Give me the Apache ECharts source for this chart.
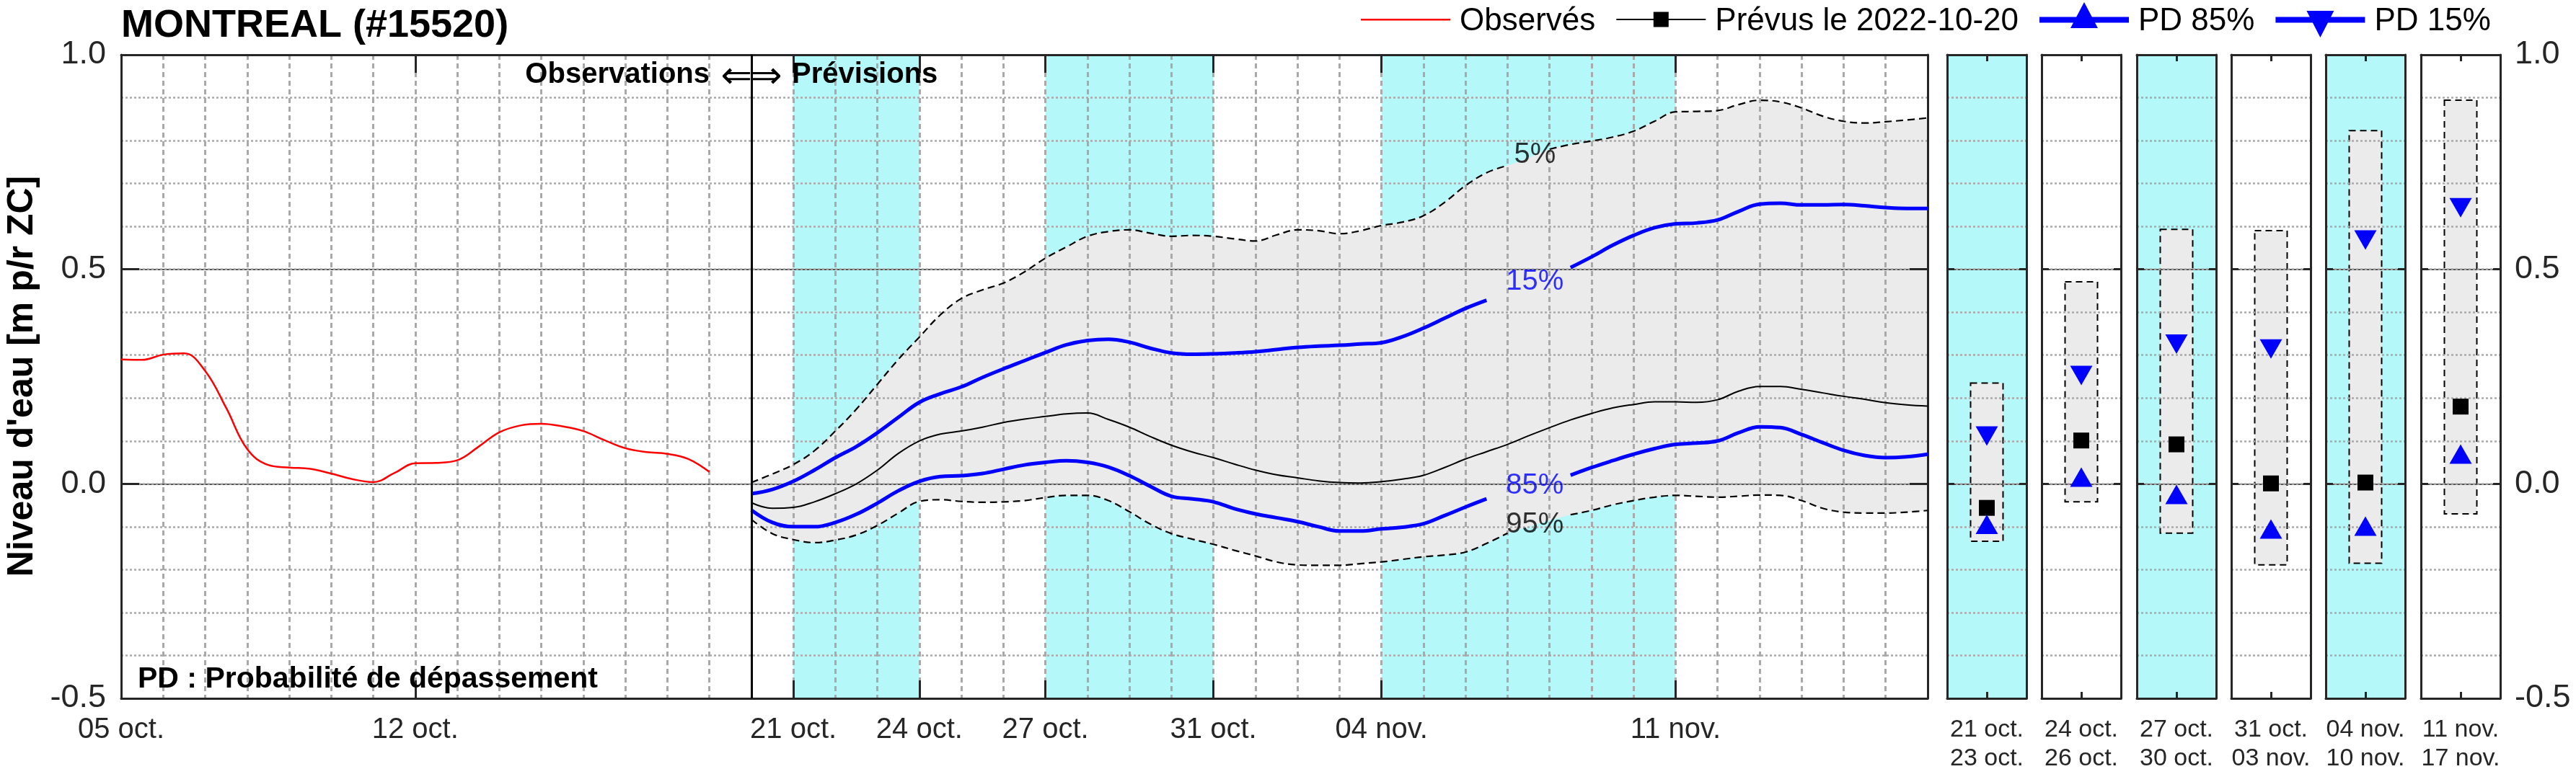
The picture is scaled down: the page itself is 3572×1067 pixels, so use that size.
<!DOCTYPE html>
<html><head><meta charset="utf-8">
<script src="https://cdn.jsdelivr.net/npm/echarts@6/dist/echarts.min.js"></script>
<style>html,body{margin:0;padding:0;background:#fff}#c{width:3572px;height:1067px}</style>
</head><body><div id="c"></div>
<script>
// ---------------- DATA (days counted from 2022-10-05 00:00) ----------------
const obsDays = [0,0.5,1,1.5,2,2.5,3,3.5,4,4.5,5,5.5,6,6.5,7,7.5,8,8.5,9,9.5,10,10.5,11,11.5,12,12.5,13,13.5,14];
const observed = [0.290,0.289,0.301,0.304,0.263,0.177,0.081,0.044,0.038,0.035,0.024,0.011,0.004,0.025,0.048,0.049,0.055,0.086,0.120,0.136,0.140,0.134,0.123,0.102,0.083,0.074,0.070,0.058,0.028];

const fcDays = [15,15.5,16,16.5,17,17.5,18,18.5,19,19.5,20,20.5,21,21.5,22,22.5,23,23.5,24,24.5,25,25.5,26,26.5,27,27.5,28,28.5,29,29.5,30,30.5,31,31.5,32,32.5,33,33.5,34,34.5,35,35.5,36,36.5,37,37.5,38,38.5,39,39.5,40,40.5,41,41.5,42,42.5,43];
const p05 = [0.003,0.023,0.045,0.077,0.123,0.174,0.232,0.290,0.342,0.394,0.432,0.452,0.468,0.494,0.526,0.552,0.577,0.588,0.592,0.584,0.577,0.579,0.577,0.571,0.566,0.580,0.592,0.590,0.583,0.590,0.602,0.610,0.625,0.656,0.695,0.725,0.742,0.760,0.780,0.791,0.799,0.808,0.822,0.845,0.867,0.868,0.870,0.884,0.894,0.890,0.876,0.857,0.845,0.841,0.844,0.848,0.853];
const p15 = [-0.023,-0.013,0.006,0.032,0.061,0.087,0.119,0.155,0.190,0.210,0.226,0.248,0.268,0.287,0.306,0.324,0.334,0.337,0.330,0.316,0.305,0.302,0.303,0.305,0.308,0.313,0.318,0.321,0.323,0.326,0.329,0.343,0.363,0.386,0.409,0.428,0.447,0.466,0.485,0.504,0.529,0.556,0.579,0.597,0.606,0.608,0.615,0.635,0.652,0.654,0.650,0.650,0.651,0.648,0.644,0.642,0.642];
const forecast = [-0.044,-0.057,-0.055,-0.042,-0.023,0.000,0.032,0.071,0.100,0.116,0.123,0.132,0.143,0.151,0.157,0.163,0.165,0.150,0.132,0.110,0.090,0.074,0.061,0.046,0.032,0.021,0.014,0.007,0.003,0.002,0.005,0.011,0.020,0.038,0.058,0.075,0.092,0.112,0.131,0.149,0.164,0.177,0.185,0.191,0.191,0.190,0.196,0.216,0.227,0.227,0.220,0.212,0.204,0.197,0.189,0.184,0.181];
const p85 = [-0.061,-0.090,-0.100,-0.100,-0.090,-0.071,-0.045,-0.016,0.006,0.017,0.019,0.024,0.034,0.044,0.050,0.054,0.050,0.039,0.019,-0.006,-0.029,-0.035,-0.042,-0.058,-0.070,-0.079,-0.088,-0.100,-0.110,-0.110,-0.105,-0.101,-0.093,-0.074,-0.054,-0.035,-0.021,-0.008,0.006,0.020,0.038,0.054,0.069,0.082,0.092,0.095,0.100,0.119,0.133,0.131,0.115,0.096,0.078,0.066,0.061,0.063,0.069];
const p95 = [-0.083,-0.116,-0.130,-0.137,-0.131,-0.119,-0.097,-0.068,-0.041,-0.037,-0.041,-0.043,-0.042,-0.039,-0.032,-0.027,-0.027,-0.039,-0.065,-0.094,-0.116,-0.129,-0.141,-0.155,-0.168,-0.182,-0.189,-0.190,-0.190,-0.186,-0.182,-0.176,-0.170,-0.166,-0.159,-0.139,-0.115,-0.100,-0.085,-0.072,-0.062,-0.049,-0.039,-0.031,-0.027,-0.029,-0.031,-0.029,-0.026,-0.027,-0.039,-0.057,-0.066,-0.068,-0.068,-0.066,-0.062];

const forecastStartDay = 15;
const mainTickDays = [0,7,16,19,22,26,30,37];
const mainTickLabels = ['05 oct.','12 oct.','21 oct.','24 oct.','27 oct.','31 oct.','04 nov.','11 nov.'];
const shadedPeriods = [[16,19],[22,26],[30,37]];

const panelStart = ['21 oct.','24 oct.','27 oct.','31 oct.','04 nov.','11 nov.'];
const panelEnd   = ['23 oct.','26 oct.','30 oct.','03 nov.','10 nov.','17 nov.'];
const panelShaded = [true,false,true,false,true,false];
const panelP05 = [0.235,0.471,0.593,0.590,0.823,0.894];
const panelP95 = [-0.134,-0.042,-0.115,-0.189,-0.185,-0.070];
const panelForecast = [-0.056,0.101,0.092,0.001,0.003,0.180];
const panelP15 = [0.119,0.260,0.333,0.322,0.576,0.651];
const panelP85 = [-0.102,0.008,-0.032,-0.113,-0.106,0.062];

// ---------------- STYLE / LAYOUT ----------------
const FONT = '"Liberation Sans", Arial, Helvetica, sans-serif';
const CYAN = '#b4f8fa', BAND = '#ebebeb', BLUE = '#0000ff', FRAMEC = '#262626', GRIDC = '#a9a9a9';
const GRID_TOP = 76, GRID_H = 893;
const MAIN_LEFT = 168, MAIN_W = 2505;
const PANEL_LEFT = [2700, 2831, 2963, 3094, 3225, 3357], PANEL_W = 110;
const labelDay = 33.65;
const labelGaps = {p05:[33.2,33.8], p15:[32.9,34.3], p85:[32.9,34.3], p95:[33.2,34.3]};
const SMOOTH = 0.4;

const pairs = (xs, ys) => xs.map((x,i) => [x, ys[i]]);
const gapped = (xs, ys, g) => xs.map((x,i) => [x, (x > g[0] && x < g[1]) ? '-' : ys[i]]);
function interp(xs, ys, x){
  for (let i=0;i<xs.length-1;i++) if (x>=xs[i] && x<=xs[i+1]) { const t=(x-xs[i])/(xs[i+1]-xs[i]); return ys[i]+t*(ys[i+1]-ys[i]); }
  return ys[ys.length-1];
}
// same bezier construction as the line series' smoothing, so the band edges follow the lines
function smoothSegs(pts, s){
  const segs = [];
  let cpx0 = pts[0][0], cpy0 = pts[0][1], prevX = pts[0][0], prevY = pts[0][1];
  for (let k=1;k<pts.length;k++){
    const x = pts[k][0], y = pts[k][1];
    let cpx1, cpy1, nx0 = x, ny0 = y;
    if (k+1 >= pts.length){ cpx1 = x; cpy1 = y; }
    else {
      const nextX = pts[k+1][0], nextY = pts[k+1][1];
      let vx = nextX - prevX, vy = nextY - prevY;
      const lenPrev = Math.hypot(x-prevX, y-prevY), lenNext = Math.hypot(nextX-x, nextY-y);
      const ratio = lenNext/(lenNext+lenPrev);
      nx0 = x + vx*s*ratio; ny0 = y + vy*s*ratio;
      nx0 = Math.min(nx0, Math.max(nextX,x)); ny0 = Math.min(ny0, Math.max(nextY,y));
      nx0 = Math.max(nx0, Math.min(nextX,x)); ny0 = Math.max(ny0, Math.min(nextY,y));
      vx = nx0 - x; vy = ny0 - y;
      cpx1 = x - vx*lenPrev/lenNext; cpy1 = y - vy*lenPrev/lenNext;
      cpx1 = Math.min(cpx1, Math.max(prevX,x)); cpy1 = Math.min(cpy1, Math.max(prevY,y));
      cpx1 = Math.max(cpx1, Math.min(prevX,x)); cpy1 = Math.max(cpy1, Math.min(prevY,y));
      vx = x - cpx1; vy = y - cpy1;
      nx0 = x + vx*lenNext/lenPrev; ny0 = y + vy*lenNext/lenPrev;
    }
    segs.push([cpx0, cpy0, cpx1, cpy1, x, y]);
    cpx0 = nx0; cpy0 = ny0; prevX = x; prevY = y;
  }
  return segs;
}

const FRAME = {show:true, onZero:false, lineStyle:{color:FRAMEC, width:3}};
const NOLINE = {show:false, onZero:false};
const dotted = {show:true, lineStyle:{color:GRIDC, width:2.5, type:[3,3]}};
const solidRef = {show:true, lineStyle:{color:'#555555', width:2, type:'solid'}};
const tickStyle = {color:FRAMEC, width:3};

const grids = [{left:MAIN_LEFT, top:GRID_TOP, width:MAIN_W, height:GRID_H, containLabel:false, outerBoundsMode:'none'}];
PANEL_LEFT.forEach((l,i) => grids.push({left:l, top:GRID_TOP, width:PANEL_W, height:GRID_H, containLabel:false, outerBoundsMode:'none',
  show:panelShaded[i], backgroundColor:CYAN, borderWidth:0}));

function yLeft(gi, len){
  return {type:'value', gridIndex:gi, min:-0.5, max:1, interval:0.5, position:'left', z:2,
    axisLine:FRAME, splitLine:{show:false},
    axisTick:{show:true, inside:true, length:len, lineStyle:tickStyle},
    axisLabel:{show:gi===0, formatter:v=>Number(v).toFixed(1), fontSize:45, color:FRAMEC, margin:21, fontFamily:FONT}};
}
function yRight(gi, len, show){
  return {type:'value', gridIndex:gi, min:-0.5, max:1, interval:0.5, position:'right', z:2,
    axisLine:FRAME, splitLine:solidRef,
    axisTick:{show:true, inside:true, length:len, lineStyle:tickStyle},
    axisLabel:{show:show, formatter:v=>Number(v).toFixed(1), fontSize:45, color:FRAMEC, margin:20, align:'left', fontFamily:FONT}};
}
function yGrid(gi){
  return {type:'value', gridIndex:gi, min:-0.5, max:1, interval:0.1, position:'left', z:2,
    axisLine:NOLINE, axisTick:{show:false}, axisLabel:{show:false}, splitLine:dotted};
}

const xAxes = [
  {type:'value', gridIndex:0, min:0, max:43, interval:1, position:'bottom', z:2,
   axisLine:FRAME, splitLine:{show:false},
   axisTick:{show:true, inside:true, length:25, customValues:mainTickDays, lineStyle:tickStyle},
   axisLabel:{show:true, customValues:mainTickDays, fontSize:40, color:FRAMEC, margin:24, fontFamily:FONT,
     formatter:v=>{const k=mainTickDays.findIndex(d=>Math.abs(d-v)<1e-6); return k<0?'':mainTickLabels[k];}}},
  {type:'value', gridIndex:0, min:0, max:43, interval:1, position:'top', z:2,
   axisLine:FRAME, splitLine:{show:false},
   axisTick:{show:true, inside:true, length:25, customValues:mainTickDays, lineStyle:tickStyle},
   axisLabel:{show:false}},
  {type:'value', gridIndex:0, min:0, max:43, interval:1, position:'bottom', z:2,
   axisLine:NOLINE, axisTick:{show:false}, axisLabel:{show:false},
   splitLine:{show:true, lineStyle:{color:GRIDC, width:3, type:[7,5]}}}
];
const yAxes = [yLeft(0,25), yRight(0,25,false), yGrid(0)];
PANEL_LEFT.forEach((l,i) => {
  const gi = i+1;
  xAxes.push({type:'value', gridIndex:gi, min:0, max:1, position:'bottom', z:2, axisLine:FRAME, splitLine:{show:false},
    axisTick:{show:true, inside:true, length:9, customValues:[0.5], lineStyle:tickStyle},
    axisLabel:{show:true, customValues:[0.5], fontSize:34, lineHeight:40, color:FRAMEC, margin:24, fontFamily:FONT,
      formatter:()=>panelStart[i]+'\n'+panelEnd[i]}});
  xAxes.push({type:'value', gridIndex:gi, min:0, max:1, position:'top', z:2, axisLine:FRAME, splitLine:{show:false},
    axisTick:{show:true, inside:true, length:9, customValues:[0.5], lineStyle:tickStyle}, axisLabel:{show:false}});
  yAxes.push(yLeft(gi,10));
  yAxes.push(yRight(gi,10,i===PANEL_LEFT.length-1));
  yAxes.push(yGrid(gi));
});

const base = {type:'line', xAxisIndex:0, yAxisIndex:0, showSymbol:false, symbol:'none', silent:true, animation:false};
const series = [
  {...base, name:'Observés', data:pairs(obsDays, observed), smooth:SMOOTH, color:'#ff0000', lineStyle:{width:2.5, color:'#ff0000'}, z:3,
   markArea:{silent:true, z:0, itemStyle:{color:CYAN, opacity:1, borderWidth:0}, label:{show:false},
     data:shadedPeriods.map(p=>[{xAxis:p[0]},{xAxis:p[1]}])},
   markLine:{silent:true, z:4, symbol:'none', label:{show:false}, animation:false,
     lineStyle:{color:'#000', width:3, type:'solid'}, data:[{xAxis:forecastStartDay}]}},
  {...base, name:'Prévus le 2022-10-20', data:pairs(fcDays, forecast), smooth:SMOOTH, color:'#000', lineStyle:{width:2, color:'#000'}, z:3},
  {...base, name:'PD 85%', data:gapped(fcDays, p85, labelGaps.p85), smooth:SMOOTH, color:BLUE, lineStyle:{width:5, color:BLUE}, z:3},
  {...base, name:'PD 15%', data:gapped(fcDays, p15, labelGaps.p15), smooth:SMOOTH, color:BLUE, lineStyle:{width:5, color:BLUE}, z:3},
  {...base, name:'5%', data:gapped(fcDays, p05, labelGaps.p05), smooth:SMOOTH, color:'#000', lineStyle:{width:2.2, color:'#000', type:[10,6]}, z:3},
  {...base, name:'95%', data:gapped(fcDays, p95, labelGaps.p95), smooth:SMOOTH, color:'#000', lineStyle:{width:2.2, color:'#000', type:[10,6]}, z:3},
  {type:'custom', name:'band', xAxisIndex:0, yAxisIndex:0, silent:true, animation:false, z:1, clip:true,
   data:[[fcDays[0], p05[0]]],
   renderItem:(params, api) => {
     const up = fcDays.map((d,i)=>api.coord([d, p05[i]]));
     const lo = fcDays.map((d,i)=>api.coord([d, p95[i]]));
     const su = smoothSegs(up, SMOOTH), sl = smoothSegs(lo, SMOOTH);
     let p = 'M'+up[0][0]+','+up[0][1];
     su.forEach(s=>{ p += 'C'+s.join(','); });
     const last = lo[lo.length-1];
     p += 'L'+last[0]+','+last[1];
     for (let k=sl.length-1;k>=0;k--){ const s=sl[k], p0=lo[k]; p += 'C'+[s[2],s[3],s[0],s[1],p0[0],p0[1]].join(','); }
     p += 'Z';
     return {type:'path', shape:{pathData:p}, style:{fill:BAND, stroke:null}};
   }},
  {type:'scatter', name:'pctLabels', xAxisIndex:0, yAxisIndex:0, silent:true, animation:false, symbolSize:1,
   itemStyle:{color:'rgba(0,0,0,0)'}, z:5,
   data:[['5%',p05,'#000'],['15%',p15,BLUE],['85%',p85,BLUE],['95%',p95,'#000']].map(d=>({
     name:d[0], value:[labelDay, interp(fcDays, d[1], labelDay)], label:{color:d[2]}})),
   label:{show:true, position:'inside', formatter:'{b}', fontSize:40, fontFamily:FONT}}
];

PANEL_LEFT.forEach((l,i) => {
  const xi = 3+2*i, yi = 3+3*i;
  series.push({type:'custom', name:'range'+i, xAxisIndex:xi, yAxisIndex:yi, silent:true, animation:false, z:1,
    data:[[0.5, panelP05[i], panelP95[i]]],
    renderItem:(params, api) => {
      const a = api.coord([api.value(0), api.value(1)]);
      const b = api.coord([api.value(0), api.value(2)]);
      const w = 45;
      return {type:'rect', shape:{x:a[0]-w/2, y:a[1], width:w, height:b[1]-a[1]},
        style:{fill:BAND, stroke:'#000', lineWidth:2, lineDash:[9,6]}};
    }});
  series.push({type:'scatter', name:'Prévus le 2022-10-20', xAxisIndex:xi, yAxisIndex:yi, silent:true, animation:false, z:4,
    symbol:'rect', symbolSize:22, itemStyle:{color:'#000', opacity:1}, data:[[0.5, panelForecast[i]]]});
  series.push({type:'scatter', name:'PD 85%', xAxisIndex:xi, yAxisIndex:yi, silent:true, animation:false, z:4,
    symbol:'triangle', symbolSize:[31,27], symbolOffset:[0,-4.5], itemStyle:{color:BLUE, opacity:1}, data:[[0.5, panelP85[i]]]});
  series.push({type:'scatter', name:'PD 15%', xAxisIndex:xi, yAxisIndex:yi, silent:true, animation:false, z:4,
    symbol:'triangle', symbolRotate:180, symbolSize:[31,27], symbolOffset:[0,4.5], itemStyle:{color:BLUE, opacity:1}, data:[[0.5, panelP15[i]]]});
});

function txt(x, y, text, font, align, extra){
  return Object.assign({type:'text', x:x, y:y, z:20, silent:true,
    style:{text:text, font:font, fill:'#000', textAlign:align, align:align, textVerticalAlign:'middle', verticalAlign:'middle'}}, extra||{});
}

const option = {
  animation:false,
  backgroundColor:'#fff',
  textStyle:{fontFamily:FONT},
  grid:grids, xAxis:xAxes, yAxis:yAxes, series:series,
  legend:{left:1887, top:0, padding:0, itemWidth:132, itemHeight:60, itemGap:29, selectedMode:false,
    textStyle:{fontSize:44, color:'#000', fontFamily:FONT},
    data:[
      {name:'Observés', icon:'path://M0,0M132,60M0,26h124v2.5H0z', itemStyle:{color:'#ff0000', borderWidth:0, opacity:1}},
      {name:'Prévus le 2022-10-20', icon:'path://M0,0M132,60M0,26h124v2H0z M51.5,16.5h21v21h-21z', itemStyle:{color:'#000', borderWidth:0, opacity:1}},
      {name:'PD 85%', icon:'path://M0,0M132,60M0,23.5h124v8H0z M62,3L81,39H43z', itemStyle:{color:BLUE, borderWidth:0, opacity:1}},
      {name:'PD 15%', icon:'path://M0,0M132,60M0,23.5h124v8H0z M43,15H81L62,52z', itemStyle:{color:BLUE, borderWidth:0, opacity:1}}
    ]},
  graphic:[
    txt(168, 36, 'MONTREAL (#15520)', 'bold 54px '+FONT, 'left'),
    txt(31, 522, "Niveau d'eau [m p/r ZC]", 'bold 50px '+FONT, 'center', {rotation:Math.PI/2}),
    txt(984, 104, 'Observations', 'bold 40px '+FONT, 'right'),
    txt(1043, 108, '⇐', '52px "DejaVu Sans"', 'right'),
    txt(1041, 108, '⇒', '52px "DejaVu Sans"', 'left'),
    txt(1098, 104, 'Prévisions', 'bold 40px '+FONT, 'left'),
    txt(191, 943, 'PD : Probabilité de dépassement', 'bold 41px '+FONT, 'left')
  ]
};

const chart = echarts.init(document.getElementById('c'), null, {renderer:'canvas', width:3572, height:1067});
chart.setOption(option);
</script>
</body></html>
